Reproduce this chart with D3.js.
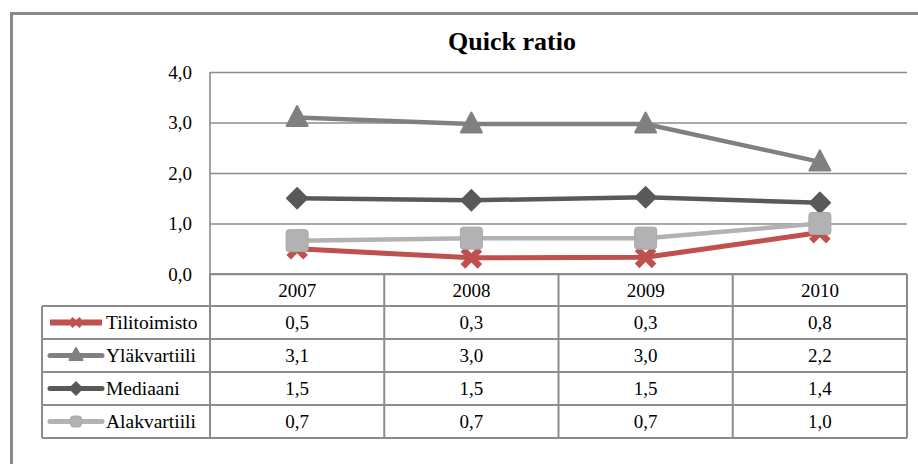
<!DOCTYPE html>
<html>
<head>
<meta charset="utf-8">
<script src="https://cdn.jsdelivr.net/npm/d3@7"></script>
<style>
html,body{margin:0;padding:0;background:#fff;}
svg{display:block;}
</style>
</head>
<body>
<svg id="chart" width="918" height="464" font-family="Liberation Serif, DejaVu Serif, serif"></svg>
<script>
const title = "Quick ratio";
const years = ["2007", "2008", "2009", "2010"];
const seriesNames = ["Tilitoimisto", "Yläkvartiili", "Mediaani", "Alakvartiili"];
const tilitoimisto = [0.5, 0.32, 0.33, 0.82];
const ylakvartiili = [3.1, 2.97, 2.97, 2.22];
const mediaani = [1.5, 1.46, 1.52, 1.41];
const alakvartiili = [0.66, 0.71, 0.71, 1.0];
const yTicks = [0, 1, 2, 3, 4];

(function () {
const seriesValues = [tilitoimisto, ylakvartiili, mediaani, alakvartiili];
const colors = ["#c0504d", "#808080", "#595959", "#b2b2b2"];
const markers = ["x", "triangle", "diamond", "square"];
const lineWidths = [5, 4.5, 4.5, 4.5];
const FONT = "'Liberation Serif', 'DejaVu Serif', serif";
const FS = 19;

const svg = d3.select("#chart");
const fmt = v => d3.format(".1f")(v).replace(".", ",");

svg.append("rect").attr("x", 11.5).attr("y", 13.5).attr("width", 920).attr("height", 470)
  .attr("fill", "#fff").attr("stroke", "#8a8a8a").attr("stroke-width", 3);

const pLeft = 210, pRight = 907, pTop = 72, pBottom = 274;
const x = d3.scaleBand().domain(years).range([pLeft, pRight]);
const y = d3.scaleLinear().domain([0, 4]).range([pBottom, pTop]);

svg.append("text").attr("x", 512).attr("y", 50).attr("text-anchor", "middle")
  .attr("font-size", 26).attr("font-weight", "bold").text(title);

const yAxis = d3.axisLeft(y).tickValues(yTicks).tickSize(-(pRight - pLeft)).tickFormat(fmt).tickPadding(18);
const gy = svg.append("g").attr("transform", `translate(${pLeft},0)`).call(yAxis);
gy.select(".domain").remove();
gy.attr("font-family", null).attr("font-size", null);
gy.selectAll(".tick line").attr("stroke", "#8c8c8c").attr("stroke-width", 1.6);
gy.selectAll(".tick text").attr("font-size", FS).attr("fill", "#000");
svg.append("line").attr("x1", pLeft).attr("x2", pLeft).attr("y1", pTop).attr("y2", pBottom)
  .attr("stroke", "#8c8c8c").attr("stroke-width", 1.6);

const rowH = 33;
const headerTop = pBottom, headerBot = 306;
const tableLeft = 42;
const rowsTop = headerBot;
const tableBottom = rowsTop + rowH * seriesNames.length;
const tg = svg.append("g");
const stroke = "#8c8c8c";
tg.append("line").attr("x1", pLeft).attr("x2", pRight).attr("y1", headerTop).attr("y2", headerTop)
  .attr("stroke", stroke).attr("stroke-width", 2);
for (let i = 0; i <= seriesNames.length; i++) {
  const yy = rowsTop + i * rowH;
  tg.append("line").attr("x1", tableLeft).attr("x2", pRight).attr("y1", yy).attr("y2", yy)
    .attr("stroke", stroke).attr("stroke-width", 2);
}
years.forEach(yr => {
  const xx = x(yr);
  tg.append("line").attr("x1", xx).attr("x2", xx).attr("y1", headerTop).attr("y2", tableBottom)
    .attr("stroke", stroke).attr("stroke-width", 2);
});
tg.append("line").attr("x1", pRight).attr("x2", pRight).attr("y1", headerTop).attr("y2", tableBottom)
  .attr("stroke", stroke).attr("stroke-width", 2);
tg.append("line").attr("x1", tableLeft).attr("x2", tableLeft).attr("y1", rowsTop).attr("y2", tableBottom)
  .attr("stroke", stroke).attr("stroke-width", 2);

years.forEach(yr => {
  tg.append("text").attr("x", x(yr) + x.bandwidth() / 2).attr("y", (headerTop + headerBot) / 2 + 6.5)
    .attr("text-anchor", "middle").attr("font-size", FS).text(yr);
});

function drawMarker(g, type, cx, cy, color, size, sw) {
  if (type === "x") {
    const h = size / 2;
    g.append("path").attr("d", `M${cx - h},${cy - h}L${cx + h},${cy + h}M${cx - h},${cy + h}L${cx + h},${cy - h}`)
      .attr("stroke", color).attr("stroke-width", sw || 6.5).attr("fill", "none");
  } else if (type === "square") {
    g.append("rect").attr("x", cx - size / 2).attr("y", cy - size / 2).attr("width", size).attr("height", size)
      .attr("rx", 3).attr("fill", color).attr("stroke", "#a8a8a8").attr("stroke-width", 1);
  } else if (type === "triangle") {
    const h = size / 2;
    g.append("path").attr("d", `M${cx},${cy - h - 2}L${cx + h + 1},${cy + h - 1}L${cx - h - 1},${cy + h - 1}Z`)
      .attr("fill", color).attr("stroke", color).attr("stroke-width", 2).attr("stroke-linejoin", "round");
  } else if (type === "diamond") {
    const h = size / 2 + 1;
    g.append("path").attr("d", `M${cx},${cy - h}L${cx + h},${cy}L${cx},${cy + h}L${cx - h},${cy}Z`)
      .attr("fill", color).attr("stroke", color).attr("stroke-width", 1.5).attr("stroke-linejoin", "round");
  }
}

seriesNames.forEach((name, i) => {
  const cy = rowsTop + i * rowH + rowH / 2;
  const lg = tg.append("g");
  lg.append("line").attr("x1", 50).attr("x2", 102).attr("y1", cy).attr("y2", cy)
    .attr("stroke", colors[i]).attr("stroke-width", i === 0 ? 6 : 5).attr("stroke-linecap", i === 0 ? "butt" : "round");
  if (i === 0) {
    drawMarker(lg, "x", 76, cy, colors[i], 9, 3);
  } else {
    drawMarker(lg, markers[i], 76, cy, colors[i], 11);
  }
  tg.append("text").attr("x", 106).attr("y", cy + 6.5).attr("font-size", FS + 0.5).text(name);
  seriesValues[i].forEach((v, j) => {
    tg.append("text").attr("x", x(years[j]) + x.bandwidth() / 2).attr("y", cy + 6.5)
      .attr("text-anchor", "middle").attr("font-size", FS).text(fmt(v));
  });
});

const line = d3.line().x((d, j) => x(years[j]) + x.bandwidth() / 2).y(d => y(d));
seriesValues.forEach((vals, i) => {
  const g = svg.append("g");
  g.append("path").datum(vals).attr("d", line).attr("fill", "none")
    .attr("stroke", colors[i]).attr("stroke-width", lineWidths[i]).attr("stroke-linejoin", "round");
  vals.forEach((v, j) => {
    const cx = x(years[j]) + x.bandwidth() / 2, cy = y(v);
    const size = markers[i] === "x" ? 17 : (markers[i] === "square" ? 22 : 19);
    drawMarker(g, markers[i], cx, cy, colors[i], size);
  });
});

svg.selectAll("text").style("font-family", FONT).attr("fill", "#000");
})();
</script>
</body>
</html>
